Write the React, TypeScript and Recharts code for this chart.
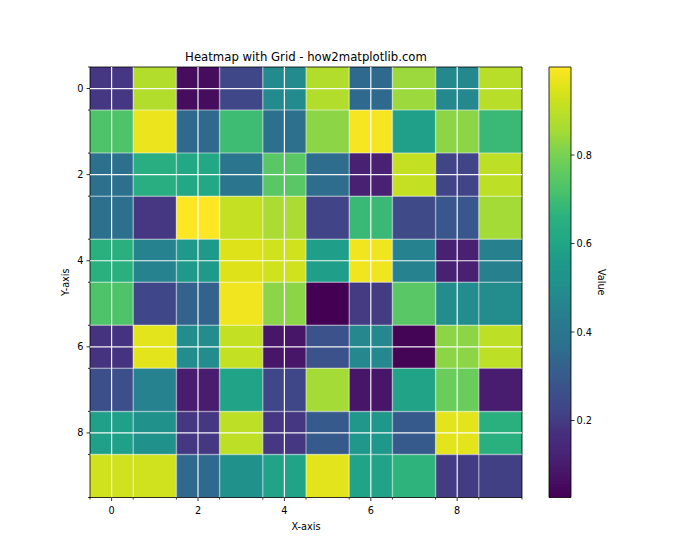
import React from "react";
import {
  ComposedChart,
  XAxis,
  YAxis,
  ReferenceArea,
  ReferenceLine,
  Scatter,
  Label,
} from "recharts";

const FONT = "'DejaVu Sans', 'Liberation Sans', sans-serif";

// rows of the heatmap (row 0 at the top)
const row0 = [0.191, 0.882, 0.055, 0.23, 0.483, 0.882, 0.347, 0.843, 0.474, 0.892];
const row1 = [0.727, 0.97, 0.347, 0.697, 0.367, 0.824, 0.989, 0.581, 0.824, 0.688];
const row2 = [0.367, 0.649, 0.61, 0.405, 0.746, 0.357, 0.114, 0.911, 0.221, 0.902];
const row3 = [0.367, 0.191, 0.999, 0.911, 0.863, 0.221, 0.688, 0.24, 0.289, 0.853];
const row4 = [0.658, 0.454, 0.551, 0.95, 0.931, 0.571, 0.98, 0.454, 0.114, 0.444];
const row5 = [0.727, 0.23, 0.328, 0.98, 0.824, 0.026, 0.201, 0.746, 0.493, 0.493];
const row6 = [0.182, 0.96, 0.493, 0.911, 0.084, 0.269, 0.474, 0.036, 0.824, 0.902];
const row7 = [0.26, 0.454, 0.104, 0.59, 0.23, 0.853, 0.084, 0.59, 0.775, 0.104];
const row8 = [0.581, 0.513, 0.191, 0.902, 0.191, 0.298, 0.542, 0.298, 0.96, 0.658];
const row9 = [0.931, 0.931, 0.347, 0.513, 0.59, 0.96, 0.59, 0.668, 0.201, 0.211];
const rows = [row0, row1, row2, row3, row4, row5, row6, row7, row8, row9];

const majorTicks = [0, 2, 4, 6, 8];
const minorTicks = [-0.5, 0.5, 1.5, 2.5, 3.5, 4.5, 5.5, 6.5, 7.5, 8.5, 9.5];
const cbarTicks = [0.2, 0.4, 0.6, 0.8];

// viridis sampled every 0.05
const VIRIDIS = [
  "#440154", "#471365", "#482475", "#472f7d", "#414487", "#3b528b", "#355f8d",
  "#2d708e", "#2a788e", "#25858e", "#21918c", "#1e9b8a", "#22a884", "#2ab07f",
  "#44bf70", "#5ec962", "#7ad151", "#a5db36", "#bddf26", "#dde318", "#fde725",
];

function hexToRgb(h: string) {
  const n = parseInt(h.slice(1), 16);
  return [(n >> 16) & 255, (n >> 8) & 255, n & 255];
}

function viridis(t: number) {
  const c = Math.max(0, Math.min(1, t)) * (VIRIDIS.length - 1);
  const i = Math.min(Math.floor(c), VIRIDIS.length - 2);
  const f = c - i;
  const a = hexToRgb(VIRIDIS[i]);
  const b = hexToRgb(VIRIDIS[i + 1]);
  const m = a.map((v, k) => Math.round(v + (b[k] - v) * f));
  return `rgb(${m[0]},${m[1]},${m[2]})`;
}

const cells = rows.flatMap((r, y) => r.map((v, x) => ({ x, y, v })));
const vmin = Math.min(...cells.map((c) => c.v));
const vmax = Math.max(...cells.map((c) => c.v));

const axisTicks = [...minorTicks, ...majorTicks].sort((a, b) => a - b);
const innerMinor = minorTicks.slice(1, -1);

// colorbar drawn as thin slices of the colormap between vmin and vmax
const N_SLICES = 160;
const step = (vmax - vmin) / N_SLICES;
const slices = Array.from({ length: N_SLICES }, (_, i) => ({
  lo: vmin + step * i,
  hi: Math.min(vmax, vmin + step * (i + 2)),
  t: (i + 0.5) / N_SLICES,
}));

function XTick(props: any) {
  const { x, y, payload } = props;
  const major = Number.isInteger(payload.value);
  return (
    <g>
      <line x1={x} x2={x} y1={y} y2={y + (major ? 3.5 : 2)} stroke="#000" strokeWidth={0.8} />
      {major && (
        <text x={x} y={y + 16.5} textAnchor="middle" fontSize={9.7} fontFamily={FONT} fill="#000">
          {payload.value}
        </text>
      )}
    </g>
  );
}

function YTick(props: any) {
  const { x, y, payload } = props;
  const major = Number.isInteger(payload.value);
  return (
    <g>
      <line x1={x} x2={x - (major ? 3.5 : 2)} y1={y} y2={y} stroke="#000" strokeWidth={0.8} />
      {major && (
        <text x={x - 6.5} y={y + 3.5} textAnchor="end" fontSize={9.7} fontFamily={FONT} fill="#000">
          {payload.value}
        </text>
      )}
    </g>
  );
}

function CbarTick(props: any) {
  const { x, y, payload } = props;
  return (
    <g>
      <line x1={x} x2={x + 3.5} y1={y} y2={y} stroke="#000" strokeWidth={0.8} />
      <text x={x + 5.5} y={y + 3.5} textAnchor="start" fontSize={9.7} fontFamily={FONT} fill="#000">
        {payload.value.toFixed(1)}
      </text>
    </g>
  );
}

function XLabel(props: any) {
  const { x, y, width } = props.viewBox;
  return (
    <text x={x + width / 2} y={y + 32.5} textAnchor="middle" fontSize={9.7} fontFamily={FONT} fill="#000">
      X-axis
    </text>
  );
}

function YLabel(props: any) {
  const { x, y, height } = props.viewBox;
  const cx = x + 19;
  const cy = y + height / 2;
  return (
    <text x={cx} y={cy} textAnchor="middle" fontSize={9.7} fontFamily={FONT} fill="#000" transform={`rotate(-90, ${cx}, ${cy})`}>
      Y-axis
    </text>
  );
}

function CbarLabel(props: any) {
  const { x, y, height } = props.viewBox;
  const cx = x + 27;
  const cy = y + height / 2;
  return (
    <text x={cx} y={cy} textAnchor="middle" fontSize={9.7} fontFamily={FONT} fill="#000" transform={`rotate(90, ${cx}, ${cy})`}>
      Value
    </text>
  );
}

export default function App() {
  return (
    <div style={{ position: "absolute", left: 0, top: 0, width: 700, height: 560, background: "#fff" }}>
      <div
        style={{
          position: "absolute",
          left: 90,
          top: 50,
          width: 432,
          textAlign: "center",
          fontFamily: FONT,
          fontSize: 11.7,
          lineHeight: "14px",
          color: "#000",
        }}
      >
        Heatmap with Grid - how2matplotlib.com
      </div>

      <div style={{ position: "absolute", left: 0, top: 0 }}>
        <ComposedChart width={700} height={560} margin={{ top: 67, right: 178, bottom: 22.5, left: 50 }}>
          <XAxis
            type="number"
            dataKey="x"
            domain={[-0.5, 9.5]}
            ticks={axisTicks}
            interval={0}
            tickSize={0}
            tickMargin={0}
            tickLine={false}
            axisLine={false}
            tick={XTick}
            height={40}
            allowDataOverflow
          >
            <Label content={XLabel} />
          </XAxis>
          <YAxis
            type="number"
            dataKey="y"
            domain={[-0.5, 9.5]}
            reversed
            ticks={axisTicks}
            interval={0}
            tickSize={0}
            tickMargin={0}
            tickLine={false}
            axisLine={false}
            tick={YTick}
            width={40}
            allowDataOverflow
          >
            <Label content={YLabel} />
          </YAxis>

          {cells.map((c) => (
            <ReferenceArea
              key={`c-${c.x}-${c.y}`}
              x1={c.x - 0.5}
              x2={c.x + 0.5}
              y1={c.y - 0.5}
              y2={c.y + 0.5}
              fill={viridis((c.v - vmin) / (vmax - vmin))}
              fillOpacity={1}
              stroke="none"
              ifOverflow="visible"
            />
          ))}

          {innerMinor.map((m) => (
            <ReferenceLine key={`mx-${m}`} x={m} stroke="#fff" strokeOpacity={0.38} strokeWidth={1.5} />
          ))}
          {innerMinor.map((m) => (
            <ReferenceLine key={`my-${m}`} y={m} stroke="#fff" strokeOpacity={0.38} strokeWidth={1.5} />
          ))}
          {majorTicks.map((m) => (
            <ReferenceLine key={`Mx-${m}`} x={m} stroke="#fff" strokeOpacity={0.95} strokeWidth={1.2} />
          ))}
          {majorTicks.map((m) => (
            <ReferenceLine key={`My-${m}`} y={m} stroke="#fff" strokeOpacity={0.95} strokeWidth={1.2} />
          ))}

          <ReferenceArea
            x1={-0.5}
            x2={9.5}
            y1={-0.5}
            y2={9.5}
            fill="none"
            stroke="#000"
            strokeWidth={0.8}
            ifOverflow="visible"
          />

          <Scatter data={cells} dataKey="y" shape={() => <g />} isAnimationActive={false} />
        </ComposedChart>
      </div>

      <div style={{ position: "absolute", left: 540, top: 0 }}>
        <ComposedChart width={160} height={560} margin={{ top: 67, right: 89, bottom: 62.5, left: 9 }}>
          <XAxis
            type="number"
            dataKey="x"
            domain={[0, 1]}
            height={0}
            tick={false}
            tickLine={false}
            axisLine={false}
            allowDataOverflow
          />
          <YAxis
            type="number"
            dataKey="hi"
            orientation="right"
            domain={[vmin, vmax]}
            ticks={cbarTicks}
            interval={0}
            tickSize={0}
            tickMargin={0}
            tickLine={false}
            axisLine={false}
            tick={CbarTick}
            width={40}
            allowDataOverflow
          >
            <Label content={CbarLabel} />
          </YAxis>
          {slices.map((s, i) => (
            <ReferenceArea
              key={`s-${i}`}
              x1={0}
              x2={1}
              y1={s.lo}
              y2={s.hi}
              fill={viridis(s.t)}
              fillOpacity={1}
              stroke="none"
              ifOverflow="visible"
            />
          ))}
          <ReferenceArea
            x1={0}
            x2={1}
            y1={vmin}
            y2={vmax}
            fill="none"
            stroke="#000"
            strokeWidth={0.8}
            ifOverflow="visible"
          />
          <Scatter data={slices.map((s) => ({ x: 0.5, hi: s.hi }))} dataKey="hi" shape={() => <g />} isAnimationActive={false} />
        </ComposedChart>
      </div>
    </div>
  );
}
